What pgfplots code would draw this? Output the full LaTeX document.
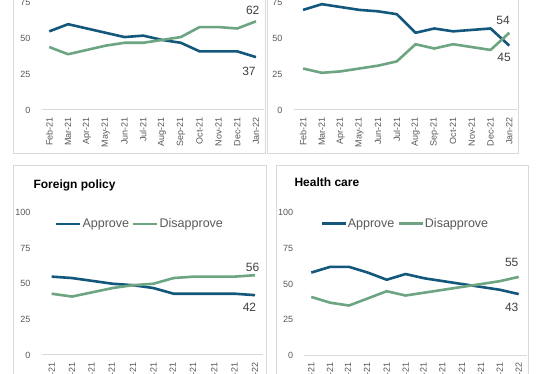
\documentclass[border=0pt]{standalone}
\usepackage{pgfplots}
\pgfplotsset{compat=1.18}
\usepackage{fontspec}
\setmainfont{Liberation Sans}
\definecolor{appr}{HTML}{13587C}
\definecolor{disa}{HTML}{6DA583}
\definecolor{tickgray}{HTML}{595959}
\definecolor{labgray}{HTML}{404040}
\definecolor{bordergray}{HTML}{D9D9D9}
\tikzset{lbl/.style={font=\fontsize{12}{14}\selectfont, text=labgray, anchor=center}}
\pgfplotsset{
  panel/.style={
    scale only axis,
    ymin=0, ymax=100,
    ytick={0,25,50,75,100},
    axis x line*=bottom,
    axis y line*=left,
    y axis line style={draw=none},
    x axis line style={draw=bordergray, line width=1pt, -},
    major tick length=0pt,
    xticklabel style={rotate=90, anchor=east, inner sep=0pt, font=\fontsize{9}{10}\selectfont, text=tickgray},
    yticklabel style={anchor=east, inner sep=0pt, font=\fontsize{9}{10}\selectfont, text=tickgray},
    xticklabel shift=7pt,
    yticklabel shift=11pt,
    /pgf/number format/assume math mode=true,
    clip=false,
    every axis plot/.append style={line width=2.6pt, no markers, line join=round},
    legend image code/.code={\draw[##1] (0pt,0pt) -- (24pt,0pt);},
  },
}
\begin{document}
\begin{tikzpicture}[x=1pt,y=1pt]
\begin{scope}
\clip (0,0) rectangle (543,374);
\fill[white] (0,0) rectangle (543,374);
% panel borders
\draw[bordergray, line width=0.9pt] (13.3,384) rectangle (265.5,220.7);
\draw[bordergray, line width=0.9pt] (267.5,384) rectangle (518.3,220.7);
\draw[bordergray, line width=0.9pt] (13.3,209) rectangle (266,-16);
\draw[bordergray, line width=0.9pt] (276,209) rectangle (528.3,-16);

% top-left
\begin{axis}[panel, at={(41.5pt,264pt)}, anchor=south west, width=222pt, height=143pt,
  xmin=-0.415, xmax=11.4, xtick={0,...,11},
  xticklabels={Feb-21,Mar-21,Apr-21,May-21,Jun-21,Jul-21,Aug-21,Sep-21,Oct-21,Nov-21,Dec-21,Jan-22}]
\addplot[appr] coordinates {(0,55)(1,60)(2,57)(3,54)(4,51)(5,52)(6,49)(7,47)(8,41)(9,41)(10,41)(11,37)};
\addplot[disa] coordinates {(0,44)(1,39)(2,42)(3,45)(4,47)(5,47)(6,49)(7,51)(8,58)(9,58)(10,57)(11,62)};
\node[lbl, xshift=-3.3pt, yshift=10.5pt] at (axis cs:11,62) {62};
\node[lbl, xshift=-7pt, yshift=-14.2pt] at (axis cs:11,37) {37};
\end{axis}

% top-right
\begin{axis}[panel, at={(293.7pt,264pt)}, anchor=south west, width=223.3pt, height=143pt,
  xmin=-0.5, xmax=11.41, xtick={0,...,11},
  xticklabels={Feb-21,Mar-21,Apr-21,May-21,Jun-21,Jul-21,Aug-21,Sep-21,Oct-21,Nov-21,Dec-21,Jan-22}]
\addplot[appr] coordinates {(0,70)(1,74)(2,72)(3,70)(4,69)(5,67)(6,54)(7,57)(8,55)(9,56)(10,57)(11,45)};
\addplot[disa] coordinates {(0,29)(1,26)(2,27)(3,29)(4,31)(5,34)(6,46)(7,43)(8,46)(9,44)(10,42)(11,54)};
\node[lbl, xshift=-6.3pt, yshift=12.3pt] at (axis cs:11,54) {54};
\node[lbl, xshift=-5.3pt, yshift=-12.2pt] at (axis cs:11,45) {45};
\end{axis}

% bottom-left
\node[anchor=base west, font=\bfseries\fontsize{12}{14}\selectfont] at (30,185.7) {Foreign policy};
\begin{axis}[panel, at={(41.7pt,19pt)}, anchor=south west, width=221.6pt, height=142.5pt,
  xmin=-0.49, xmax=10.41, xtick={0,...,10},
  xticklabels={Feb-21,Mar-21,Apr-21,May-21,Jun-21,Jul-21,Aug-21,Sep-21,Oct-21,Dec-21,Jan-22},
  legend style={at={(0.0588,0.9206)}, anchor=west, draw=none, fill=none, legend columns=2,
    inner sep=0pt, font=\fontsize{12.5}{14}\selectfont, text=tickgray,
    /tikz/every even column/.append style={column sep=2pt}, nodes={inner sep=1pt}}]
\addplot[appr] coordinates {(0,55)(1,54)(2,52)(3,50)(4,49)(5,47)(6,43)(7,43)(8,43)(9,43)(10,42)};
\addplot[disa] coordinates {(0,43)(1,41)(2,44)(3,47)(4,49)(5,50)(6,54)(7,55)(8,55)(9,55)(10,56)};
\legend{Approve,Disapprove}
\node[lbl, xshift=-2.3pt, yshift=7.4pt] at (axis cs:10,56) {56};
\node[lbl, xshift=-5.5pt, yshift=-11.8pt] at (axis cs:10,42) {42};
\end{axis}

% bottom-right
\node[anchor=base west, font=\bfseries\fontsize{12}{14}\selectfont] at (291,187.3) {Health care};
\begin{axis}[panel, at={(304.3pt,18.3pt)}, anchor=south west, width=222.7pt, height=143.3pt,
  xmin=-0.37, xmax=11.44, xtick={0,...,11},
  xticklabels={Feb-21,Mar-21,Apr-21,May-21,Jun-21,Jul-21,Aug-21,Sep-21,Oct-21,Nov-21,Dec-21,Jan-22},
  legend style={at={(0.0705,0.921)}, anchor=west, draw=none, fill=none, legend columns=2,
    inner sep=0pt, font=\fontsize{12.5}{14}\selectfont, text=tickgray,
    /tikz/every even column/.append style={column sep=2pt}, nodes={inner sep=1pt}}]
\addplot[appr] coordinates {(0,58)(1,62)(2,62)(3,58)(4,53)(5,57)(6,54)(7,52)(8,50)(9,48)(10,46)(11,43)};
\addplot[disa] coordinates {(0,41)(1,37)(2,35)(3,40)(4,45)(5,42)(6,44)(7,46)(8,48)(9,50)(10,52)(11,55)};
\legend{Approve,Disapprove}
\node[lbl, xshift=-7pt, yshift=14.1pt] at (axis cs:11,55) {55};
\node[lbl, xshift=-7pt, yshift=-12.9pt] at (axis cs:11,43) {43};
\end{axis}
\end{scope}
\pgfresetboundingbox
\useasboundingbox (0,0) rectangle (543,374);
\end{tikzpicture}
\end{document}
